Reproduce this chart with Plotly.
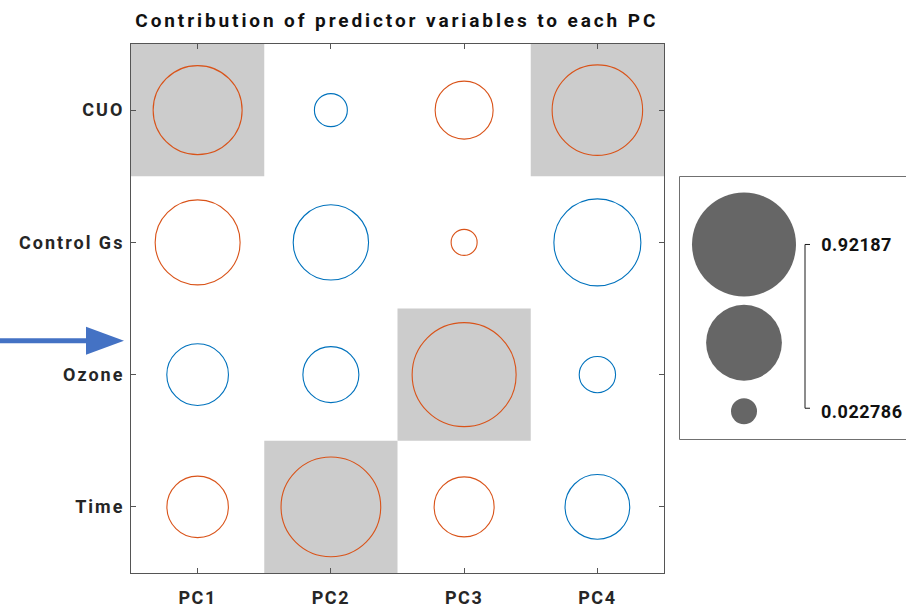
import numpy as np
import plotly.graph_objects as go

# ---------------- data ----------------
components = ["PC1", "PC2", "PC3", "PC4"]
variables = ["CUO", "Control Gs", "Ozone", "Time"]
# signed loadings (rows = variables, cols = components); colour = sign, size = |value|
loading_CUO = [0.665, -0.059, 0.261, 0.689]
loading_ControlGs = [0.603, -0.466, 0.022786, -0.634]
loading_Ozone = [-0.300, -0.241, 0.92187, -0.080]
loading_Time = [0.298, 0.844, 0.282, -0.334]
legend_values = [0.92187, 0.472328, 0.022786]
legend_labels = ["0.92187", "0.022786"]

loadings = np.array([loading_CUO, loading_ControlGs, loading_Ozone, loading_Time])

# ---------------- styling ----------------
W, H = 906, 608
ML, MR, MT, MB = 131, 0, 44, 31
PW = W - ML - MR      # paper width
PH = H - MT - MB      # paper height
PLOT_W = 533
FONT = "Roboto"
ORANGE = "#D95319"
BLUE = "#0072BD"
HILITE = "#CCCCCC"
AXC = "#555555"
DMIN, DMAX = 26.0, 104.0
vmin, vmax = legend_values[-1], legend_values[0]


def diam(v):
    a = DMIN**2 + (abs(v) - vmin) / (vmax - vmin) * (DMAX**2 - DMIN**2)
    return float(np.sqrt(max(a, 1.0)))


def px(xp):
    return (xp - ML) / PW


def py(yp):
    return (H - MB - yp) / PH


fig = go.Figure()

xs, ys, sizes, cols = [], [], [], []
for i, var in enumerate(variables):
    for j, comp in enumerate(components):
        v = loadings[i, j]
        xs.append(j + 1)
        ys.append(i + 1)
        sizes.append(diam(v))
        cols.append(ORANGE if v > 0 else BLUE)

fig.add_trace(go.Scatter(
    x=xs, y=ys, mode="markers",
    marker=dict(symbol="circle-open", size=sizes, color=cols, opacity=1,
                line=dict(width=1.1, color=cols)),
    hoverinfo="skip", showlegend=False, xaxis="x", yaxis="y"))

# highlight the dominant variable in each component
shapes = []
for j in range(len(components)):
    i = int(np.argmax(np.abs(loadings[:, j])))
    shapes.append(dict(type="rect", xref="x", yref="y",
                       x0=j + 0.5, x1=j + 1.5, y0=i + 0.5, y1=i + 1.5,
                       fillcolor=HILITE, line=dict(width=0), layer="below"))

# ---------------- bubble legend ----------------
LX0, LX1, LY0, LY1 = 679, 906, 177, 443
leg_y = [246, 345, 414]
fig.add_trace(go.Scatter(
    x=[744] * len(legend_values), y=leg_y, mode="markers",
    marker=dict(symbol="circle", size=[diam(v) for v in legend_values],
                color="#666666", opacity=1, line=dict(width=0)),
    hoverinfo="skip", showlegend=False, xaxis="x2", yaxis="y2"))

shapes.append(dict(type="rect", xref="x2", yref="y2", x0=LX0 + 0.5, x1=LX1 + 20,
                   y0=LY0 + 0.5, y1=LY1 - 0.5, line=dict(color="#707070", width=1),
                   fillcolor="rgba(0,0,0,0)"))
bx = 805
shapes.append(dict(type="path", xref="x2", yref="y2",
                   path=f"M {bx+5},{leg_y[0]} L {bx},{leg_y[0]} L {bx},{leg_y[2]-3} L {bx+5},{leg_y[2]-3}",
                   line=dict(color="#1a1a1a", width=1)))

annotations = []
for lab, yy in zip(legend_labels, [leg_y[0], leg_y[2]]):
    annotations.append(dict(text=f"<b>{lab}</b>", xref="x2", yref="y2", x=821, y=yy,
                            xanchor="left", yanchor="middle", showarrow=False,
                            font=dict(family=FONT, size=18, color="#111111")))

# title
annotations.append(dict(text="<b>Contribution of predictor variables to each PC</b>",
                        xref="paper", yref="paper", x=px(ML + PLOT_W / 2 - 1), y=py(20),
                        xanchor="center", yanchor="middle", showarrow=False,
                        font=dict(family=FONT, size=19, color="#111111")))

# blue arrow pointing at "Ozone"
AY = 343
shapes.append(dict(type="line", xref="paper", yref="paper",
                   x0=px(0), x1=px(90), y0=py(AY), y1=py(AY),
                   line=dict(color="#4472C4", width=5)))
shapes.append(dict(type="path", xref="paper", yref="paper",
                   path=f"M {px(86)},{py(AY-14)} L {px(124)},{py(AY)} L {px(86)},{py(AY+14)} Z",
                   fillcolor="#4472C4", line=dict(color="#4472C4", width=0)))

axis_common = dict(showgrid=False, zeroline=False, showline=True, linecolor=AXC,
                   linewidth=1, mirror="ticks", ticks="inside", ticklen=5,
                   tickcolor=AXC, tickwidth=1,
                   tickfont=dict(family=FONT, size=18, color="#262626"))

fig.update_layout(
    width=W, height=H,
    margin=dict(l=ML, r=MR, t=MT, b=MB, pad=0),
    paper_bgcolor="white", plot_bgcolor="white",
    xaxis=dict(domain=[0, PLOT_W / PW], range=[0.5, 4.5],
               tickvals=[1, 2, 3, 4], ticktext=[f"<b>{c}</b>" for c in components],
               ticklabelstandoff=8, **axis_common),
    yaxis=dict(range=[4.5, 0.5], tickvals=[1, 2, 3, 4],
               ticktext=[f"<b>{v}</b>" for v in variables],
               ticklabelstandoff=2, **axis_common),
    xaxis2=dict(domain=[px(LX0), 1.0], range=[LX0, LX1], visible=False,
                anchor="y2", fixedrange=True),
    yaxis2=dict(domain=[py(LY1), py(LY0)], range=[LY1, LY0], visible=False,
                anchor="x2", fixedrange=True),
    shapes=shapes, annotations=annotations,
    showlegend=False,
)

# the reference text is set with wide letter spacing
letter_spacing_js = """
var st = document.createElement('style');
st.textContent = '.xtick text {letter-spacing: 1.6px;} ' +
                 '.ytick text {letter-spacing: 2px;} ' +
                 '.annotation text {letter-spacing: 0.5px;} ' +
                 '.annotation:last-of-type text {letter-spacing: 2.9px;}';
document.head.appendChild(st);
"""

fig.write_html("out.html", post_script=letter_spacing_js)
